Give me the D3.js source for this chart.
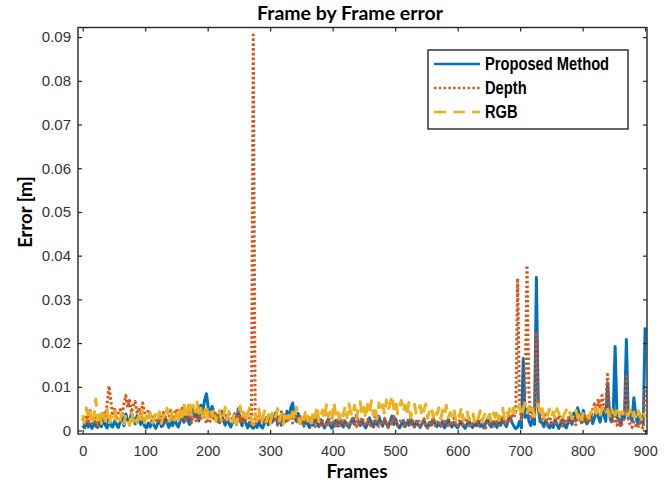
<html>
<script src="https://d3js.org/d3.v7.min.js"></script>
<head>
    <meta charset="UTF-8">
    <style>
        body { margin: 0; background: #fff; }
        svg { display: block; }
        .tick text { fill: #333; font-family: "Liberation Sans", Arial, sans-serif; }
        .tick line { stroke: #262626; stroke-width: 1.2; }
    </style>
</head>
<body>
<svg width="670" height="485"></svg>
</body>
<script>
    // frame index (every 3rd frame) and errors in millimetres
    const frames = d3.range(0, 901, 3);

    const proposed = [
        1.2,0.6,2.1,0.8,1.5,0.5,2.4,1.0,0.7,1.8,
        0.9,2.6,1.3,0.6,3.0,1.1,0.8,2.2,1.4,0.7,
        2.0,3.2,1.1,3.8,2.4,1.6,4.1,2.8,1.5,3.4,
        2.2,1.4,2.9,1.0,0.6,1.7,0.8,2.3,1.2,0.5,
        1.6,2.5,0.9,1.3,3.1,1.8,0.7,2.0,1.1,2.7,
        1.5,0.8,2.2,3.3,1.9,4.2,2.6,1.4,3.6,5.0,
        3.1,4.6,2.2,5.8,4.0,6.9,8.4,5.2,3.7,5.5,
        4.2,2.6,3.5,1.8,4.4,2.3,1.2,2.9,1.6,0.8,
        2.1,3.8,1.4,5.0,2.5,1.1,3.3,1.7,0.6,1.9,
        0.9,0.5,1.4,0.7,2.2,1.0,0.6,1.8,2.9,1.3,
        3.4,1.9,2.6,4.1,1.5,2.8,1.2,3.6,2.0,4.4,
        2.7,5.2,6.3,3.0,2.1,3.9,1.6,2.4,1.0,2.8,
        1.5,0.7,2.0,1.2,3.1,1.8,0.9,2.5,1.4,0.6,
        1.8,2.6,1.1,0.5,1.6,2.3,1.0,3.0,1.5,0.8,
        2.1,1.3,0.7,1.9,2.8,1.4,3.5,2.0,1.1,2.4,
        1.2,0.6,1.7,2.9,1.5,0.8,2.2,1.3,3.2,1.9,
        1.0,2.5,1.6,0.7,2.0,3.3,1.4,2.6,1.1,0.6,
        1.5,2.3,0.9,1.8,1.2,2.7,1.6,0.8,2.1,1.3,
        0.7,1.6,2.4,1.1,0.6,1.9,1.2,2.8,1.5,0.9,
        1.7,1.0,2.2,0.6,1.4,2.6,1.3,0.8,1.9,1.1,
        0.6,1.5,2.0,1.0,0.5,1.3,2.4,1.2,0.7,1.6,
        1.1,2.2,0.9,1.5,0.6,1.8,2.7,1.3,0.8,2.0,
        1.4,0.7,2.3,1.2,2.9,1.6,0.9,2.5,3.1,1.8,
        1.0,0.4,0.8,2.1,0.6,16.5,3.0,4.8,2.2,1.1,
        2.6,1.4,35.0,5.2,2.0,1.8,0.9,2.4,1.2,0.6,
        1.8,0.7,2.5,1.3,0.5,1.6,2.9,1.1,0.6,2.0,
        3.1,1.4,4.0,2.2,5.2,3.5,1.8,4.6,2.7,1.5,
        2.4,3.8,1.6,2.9,4.5,3.2,1.9,4.8,3.6,2.1,
        10.9,3.4,2.0,4.2,19.2,3.0,2.5,1.2,3.6,2.8,
        20.8,3.1,4.5,2.2,7.5,3.4,1.6,3.8,2.5,1.4,
        23.6
    ];

    const depth = [
        2.8,1.2,3.5,2.0,4.6,1.5,3.2,2.4,1.0,3.8,
        2.5,4.4,3.0,5.8,10.2,7.0,3.4,5.2,2.6,4.0,
        4.8,3.2,6.1,8.0,5.3,6.9,4.1,5.7,6.6,3.8,
        5.2,3.5,6.3,4.0,2.6,4.8,3.1,2.0,3.7,2.5,
        1.8,3.3,2.2,4.1,2.7,1.5,3.0,4.6,2.4,3.8,
        4.9,3.1,2.3,5.1,3.6,2.0,2.9,4.2,1.7,3.4,
        2.6,1.9,3.9,2.4,4.5,2.8,1.6,3.3,2.1,4.0,
        2.7,3.8,2.0,4.3,3.1,1.8,3.5,2.4,4.1,2.9,
        1.7,3.2,2.5,4.4,2.0,3.6,1.5,2.8,3.9,2.2,
        1.1,90.5,1.4,2.6,3.3,1.9,2.7,1.3,3.0,2.1,
        1.6,2.8,3.7,2.3,1.2,3.1,4.3,2.5,3.5,1.8,
        2.9,3.6,1.7,4.0,2.6,1.5,3.2,2.1,1.3,2.4,
        1.9,3.0,1.4,2.5,0.9,1.8,2.7,1.2,2.2,1.5,
        0.8,2.1,1.3,2.9,1.6,0.7,2.4,1.1,1.9,2.6,
        1.4,0.8,2.0,1.2,2.7,1.7,0.9,2.3,1.5,3.0,
        1.8,1.0,2.5,1.4,0.6,2.1,3.1,1.6,0.9,2.2,
        1.3,2.8,1.7,0.8,2.4,1.5,3.2,2.0,1.1,1.8,
        2.6,1.2,0.7,1.9,2.9,1.4,2.2,0.9,1.6,2.5,
        1.0,1.8,2.7,1.3,0.6,2.1,1.5,2.9,1.1,1.7,
        2.3,0.9,1.4,2.6,1.8,0.7,2.0,1.2,2.8,1.5,
        1.0,2.2,1.6,0.8,1.9,2.7,1.3,0.7,2.1,1.4,
        2.5,1.1,1.8,2.9,1.3,0.6,2.0,1.6,2.4,1.0,
        1.7,2.6,1.2,3.0,1.9,2.4,1.4,3.3,2.2,3.8,
        2.9,4.2,34.8,6.0,2.4,5.5,8.2,37.8,9.0,3.1,
        4.5,3.0,22.5,5.8,3.4,2.0,4.1,2.6,1.5,3.2,
        2.0,1.2,2.8,1.7,3.5,2.2,1.0,2.6,1.6,2.9,
        1.8,3.1,2.4,1.3,2.7,3.6,2.0,1.4,3.0,2.2,
        3.4,2.5,4.8,6.1,3.9,7.2,5.0,8.0,4.4,6.3,
        12.8,4.6,2.9,1.6,3.8,1.2,2.3,0.8,1.9,3.1,
        12.4,2.6,1.4,0.7,2.0,1.1,0.6,1.8,0.9,0.5,
        9.4
    ];

    const rgb = [
        3.5,1.8,5.2,2.6,4.3,1.4,3.0,7.2,2.4,4.6,
        1.6,3.8,2.2,5.0,1.3,3.4,2.7,4.5,1.9,3.1,
        2.3,4.0,1.5,3.6,2.8,1.2,4.4,2.0,3.3,1.7,
        3.9,2.5,4.7,1.8,3.2,2.1,4.1,1.4,2.9,3.7,
        2.2,4.3,1.6,3.5,2.7,5.1,1.9,3.0,4.6,2.4,
        3.8,2.0,5.4,3.1,6.2,2.6,4.8,6.9,3.5,5.7,
        4.2,6.5,3.0,5.1,2.4,4.0,6.0,2.8,4.6,3.3,
        5.0,2.1,3.9,4.7,1.8,3.2,5.3,2.5,4.4,3.0,
        2.0,4.1,1.5,3.4,5.6,2.7,4.2,1.9,3.5,5.2,
        2.6,1.3,3.8,2.2,4.9,1.7,3.1,4.5,2.0,3.6,
        1.5,4.0,2.6,3.3,5.0,2.1,3.7,1.4,4.4,2.8,
        3.5,1.9,4.2,2.4,5.4,3.0,1.6,3.9,2.5,4.8,
        2.2,3.6,1.7,4.5,2.9,5.6,2.0,3.3,4.7,2.4,
        5.9,3.1,4.2,2.3,6.4,3.8,5.0,2.6,4.6,3.4,
        5.5,2.9,6.1,4.0,3.2,5.8,2.5,4.9,6.6,3.6,
        5.3,2.8,6.0,4.1,6.8,3.5,5.6,2.7,6.3,4.4,
        5.9,3.7,7.0,4.6,6.2,8.0,4.9,6.7,3.8,5.5,
        6.9,4.3,5.8,3.4,6.4,2.9,5.1,6.0,3.6,4.7,
        5.7,3.2,4.8,6.1,2.8,4.4,5.4,3.0,4.9,3.7,
        5.2,2.6,4.6,3.5,5.8,2.9,4.1,3.3,4.9,2.4,
        4.0,3.1,5.3,2.2,3.8,4.6,2.5,3.4,4.3,2.0,
        3.6,2.7,4.5,1.9,3.2,4.2,2.8,3.7,2.1,4.0,
        3.0,4.8,2.3,3.9,5.1,2.7,4.4,3.5,5.5,4.1,
        5.2,3.6,4.7,5.9,3.3,4.9,6.2,4.0,5.4,3.8,
        5.0,3.2,4.6,6.0,3.9,5.3,2.8,4.4,3.5,4.9,
        3.1,4.3,2.6,5.0,3.7,4.5,2.9,3.8,4.7,3.3,
        4.1,2.7,3.6,4.9,3.0,4.4,2.5,3.9,4.6,3.4,
        2.8,4.2,3.5,5.1,3.9,4.7,3.2,5.3,4.0,3.6,
        4.8,3.3,5.0,4.1,3.6,4.5,2.9,4.3,3.8,5.0,
        4.0,3.4,4.6,2.7,4.2,3.1,4.9,3.5,2.6,4.3,
        3.0
    ];

    const xTicks = [0, 100, 200, 300, 400, 500, 600, 700, 800, 900];
    const yTicks = [0, 0.01, 0.02, 0.03, 0.04, 0.05, 0.06, 0.07, 0.08, 0.09];

    const series = [
        {name: "Proposed Method", values: proposed, color: "#0072BD", dash: null},
        {name: "Depth", values: depth, color: "#D95319", dash: "2.4,2.4"},
        {name: "RGB", values: rgb, color: "#EDB120", dash: "12,7"}
    ];

    const box = {left: 78, top: 27.5, right: 647, bottom: 434};

    const svg = d3.select("svg");

    const x = d3.scaleLinear().domain([-7.5, 903]).range([box.left, box.right]);
    const y = d3.scaleLinear().domain([-0.0008, 0.0922]).range([box.bottom, box.top]);

    svg.append("clipPath").attr("id", "clip")
        .append("rect")
        .attr("x", box.left).attr("y", box.top)
        .attr("width", box.right - box.left).attr("height", box.bottom - box.top);

    const line = d3.line()
        .x((d, i) => x(frames[i]))
        .y(d => y(d * 0.001));

    const plot = svg.append("g").attr("clip-path", "url(#clip)");
    series.forEach(s => {
        plot.append("path")
            .datum(s.values)
            .attr("d", line)
            .attr("fill", "none")
            .attr("stroke", s.color)
            .attr("stroke-width", 3)
            .attr("stroke-linejoin", "round")
            .attr("stroke-dasharray", s.dash);
    });

    // axes, MATLAB style: ticks inside, box on
    const bottom = svg.append("g")
        .attr("transform", `translate(0,${box.bottom})`)
        .call(d3.axisBottom(x).tickValues(xTicks).tickSize(-4).tickPadding(12));
    bottom.selectAll("text").style("font-size", "14.5px");

    svg.append("g")
        .attr("transform", `translate(0,${box.top})`)
        .call(d3.axisTop(x).tickValues(xTicks).tickSize(-4).tickFormat(""));

    const left = svg.append("g")
        .attr("transform", `translate(${box.left},0)`)
        .call(d3.axisLeft(y).tickValues(yTicks).tickSize(-4).tickPadding(7)
            .tickFormat(d => d === 0 ? "0" : d3.format(".2f")(d)));
    left.selectAll("text").style("font-size", "15px");

    svg.append("g")
        .attr("transform", `translate(${box.right},0)`)
        .call(d3.axisRight(y).tickValues(yTicks).tickSize(-4).tickFormat(""));

    svg.selectAll(".domain").remove();

    svg.append("rect")
        .attr("x", box.left).attr("y", box.top)
        .attr("width", box.right - box.left).attr("height", box.bottom - box.top)
        .attr("fill", "none")
        .attr("stroke", "#262626")
        .attr("stroke-width", 1.4);

    // titles
    svg.append("text")
        .attr("x", 350).attr("y", 20)
        .attr("text-anchor", "middle")
        .style("font-family", "Lato, sans-serif")
        .style("font-weight", "bold")
        .style("font-size", "19.5px")
        .text("Frame by Frame error");

    svg.append("text")
        .attr("x", 357).attr("y", 478)
        .attr("text-anchor", "middle")
        .style("font-family", "Lato, sans-serif")
        .style("font-weight", "bold")
        .style("font-size", "19px")
        .text("Frames");

    svg.append("text")
        .attr("transform", "translate(32,212) rotate(-90)")
        .attr("text-anchor", "middle")
        .style("font-family", "Lato, sans-serif")
        .style("font-weight", "bold")
        .style("font-size", "18.5px")
        .text("Error [m]");

    // legend
    const legend = svg.append("g");
    legend.append("rect")
        .attr("x", 428).attr("y", 50)
        .attr("width", 200).attr("height", 79)
        .attr("fill", "#fff")
        .attr("stroke", "#262626")
        .attr("stroke-width", 1.4);

    series.forEach((s, i) => {
        const cy = 64 + i * 24;
        legend.append("line")
            .attr("x1", 434).attr("x2", 480)
            .attr("y1", cy).attr("y2", cy)
            .attr("stroke", s.color)
            .attr("stroke-width", 2.4)
            .attr("stroke-dasharray", s.dash);
        // condensed bold face, squeezed horizontally
        legend.append("text")
            .attr("transform", `translate(485,${cy + 6}) scale(0.84,1)`)
            .style("font-family", "'Liberation Sans', Arial, sans-serif")
            .style("font-weight", "bold")
            .style("font-size", "17.5px")
            .text(s.name);
    });
</script>
</html>
